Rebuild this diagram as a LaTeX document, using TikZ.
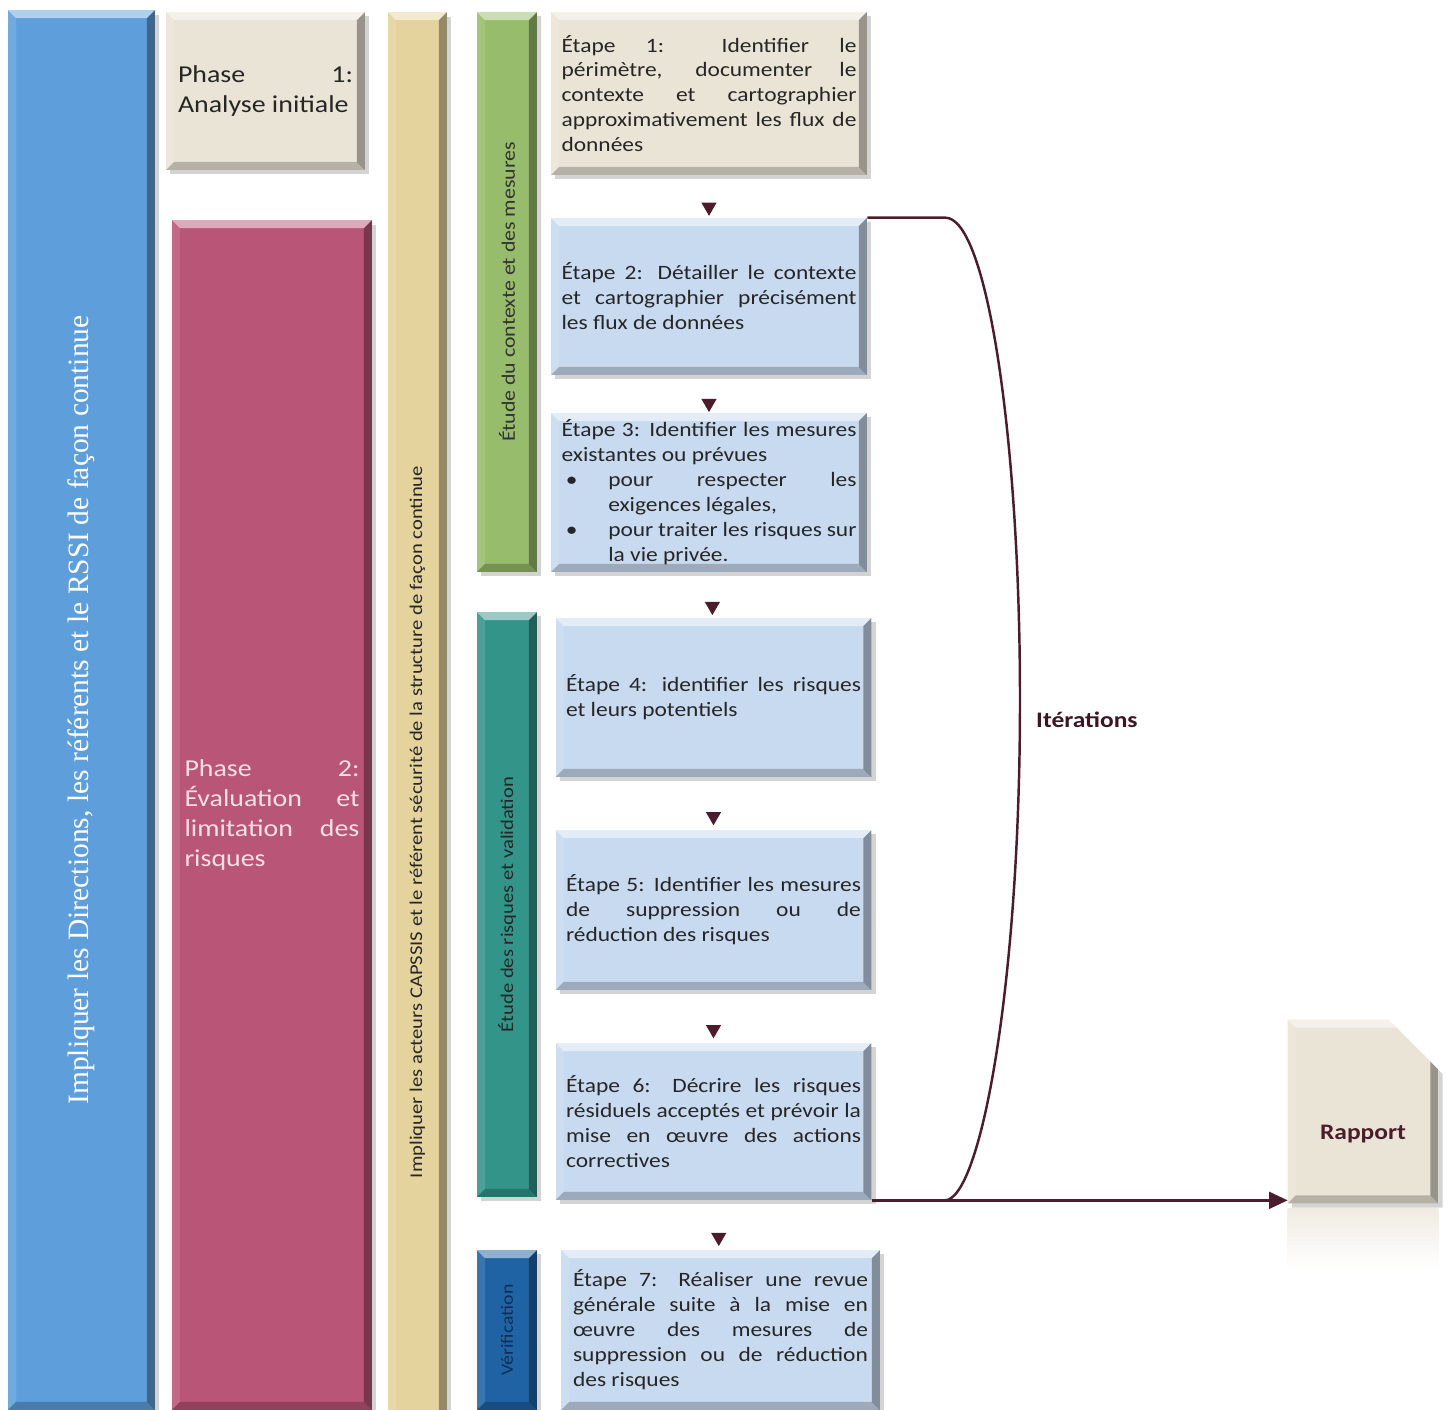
\documentclass[tikz,border=0pt]{standalone}
\usepackage{fontspec}
\setmainfont{Carlito}[FakeStretch=1.15]
\newfontfamily\serifbar{Liberation Serif}
\usepackage{tikz}
\usetikzlibrary{positioning, calc, shadows, shapes.geometric, arrows.meta}
\hyphenpenalty=10000
\tolerance=10000
\definecolor{dirblue}{HTML}{5E9FDB}
\definecolor{paper}{HTML}{EAE4D6}
\definecolor{phasered}{HTML}{B95577}
\definecolor{phasetext}{HTML}{F6E0E8}
\definecolor{actorsand}{HTML}{E5D39D}
\definecolor{ctxgreen}{HTML}{96BC6C}
\definecolor{risqteal}{HTML}{33958A}
\definecolor{verifblue}{HTML}{1F63A4}
\definecolor{veriftext}{HTML}{0F2E52}
\definecolor{steplight}{HTML}{C8DAF0}
\definecolor{wine}{HTML}{4A1C2C}
\def\bevw{0.16cm}
\tikzset{
    bevel/.style = {path picture={
        \fill[white, opacity=0.5] (path picture bounding box.north west) -- (path picture bounding box.north east)
            -- ([shift={(-\bevw,-\bevw)}]path picture bounding box.north east)
            -- ([shift={(\bevw,-\bevw)}]path picture bounding box.north west) -- cycle;
        \fill[white, opacity=0.12] (path picture bounding box.north west) -- ([shift={(\bevw,-\bevw)}]path picture bounding box.north west)
            -- ([shift={(\bevw,\bevw)}]path picture bounding box.south west) -- (path picture bounding box.south west) -- cycle;
        \fill[black, opacity=0.35] (path picture bounding box.north east) -- (path picture bounding box.south east)
            -- ([shift={(-\bevw,\bevw)}]path picture bounding box.south east) -- ([shift={(-\bevw,-\bevw)}]path picture bounding box.north east) -- cycle;
        \fill[black, opacity=0.22] (path picture bounding box.south west) -- (path picture bounding box.south east)
            -- ([shift={(-\bevw,\bevw)}]path picture bounding box.south east) -- ([shift={(\bevw,\bevw)}]path picture bounding box.south west) -- cycle;
    }},
    panel/.style = {inner sep=0pt, bevel, drop shadow={shadow xshift=2.5pt, shadow yshift=-2.5pt, opacity=0.35}},
    bar/.style = {panel, minimum width=1.2cm},
    phase/.style = {panel, minimum width=3.98cm, text width=3.5cm, align=justify, font=\fontsize{13.8}{17.2}\selectfont},
    stepbox/.style = {panel, fill=steplight, minimum width=6.32cm, text width=5.9cm, align=justify,
        text=black!85, font=\fontsize{11.6}{14.2}\selectfont},
    downtip/.style = {regular polygon, regular polygon sides=3, shape border rotate=180,
        minimum size=0.35cm, inner sep=0pt, fill=wine},
    flow/.style = {draw=wine, line width=1.4pt},
}
\begin{document}
\begin{tikzpicture}[x=0.02cm, y=-0.02cm]
    \useasboundingbox (0,0) rectangle (1448,1410);
    % bandes verticales
    \node (dirs) [panel, fill=dirblue, minimum width=2.94cm, minimum height=28cm,
        label={[rotate=90, text=white, font=\serifbar\fontsize{16.8}{20}\selectfont]center:Impliquer les Directions, les référents et le RSSI de façon continue}] at (81.5,710) {};
    \node (ph1) [phase, fill=paper, minimum height=3.16cm, text=black!85] at (265.5,91) {Phase 1:\linebreak Analyse initiale};
    \node (ph2) [phase, fill=phasered, minimum width=4cm, minimum height=23.8cm, text=phasetext] at (272,815)
        {Phase 2:\linebreak Évaluation et\linebreak limitation des\linebreak risques};
    \node (actors) [panel, fill=actorsand, minimum width=1.18cm, minimum height=32.4cm,
        label={[rotate=90, text=black!85, font=\fontsize{10.2}{12}\selectfont]center:Impliquer les acteurs CAPSSIS et le référent sécurité de la structure de façon continue}] at (417.5,822) {};
    \node (ctx) [bar, fill=ctxgreen, minimum height=11.2cm,
        label={[rotate=90, text=black!80, font=\fontsize{10.8}{13}\selectfont]center:Étude du contexte et des mesures}] at (507,292) {};
    \node (risq) [bar, fill=risqteal, minimum height=11.7cm,
        label={[rotate=90, text=black!85, font=\fontsize{10.2}{12}\selectfont]center:Étude des risques et validation}] at (507,904.5) {};
    \node (verif) [bar, fill=verifblue, minimum height=3.2cm,
        label={[rotate=90, text=veriftext, font=\fontsize{9.8}{12}\selectfont]center:Vérification}] at (507,1330) {};
    % etapes
    \node (e1) [stepbox, fill=paper, minimum height=3.26cm] at (709,93.5)
        {Étape 1: Identifier le\linebreak périmètre, documenter le\linebreak contexte et cartographier\linebreak approximativement les flux de\linebreak données};
    \node (e2) [stepbox, minimum height=3.14cm] at (709,296.5)
        {Étape 2: Détailler le contexte\linebreak et cartographier précisément\linebreak les flux de données};
    \node (e3) [stepbox, minimum height=3.18cm] at (709,492.5)
        {Étape 3: Identifier les mesures\linebreak existantes ou prévues\par
        \hangindent=26.6pt\hangafter=1\noindent\makebox[26.6pt][l]{\hspace{2.5pt}\textbullet}pour respecter les\linebreak exigences légales,\par
        \hangindent=26.6pt\hangafter=1\noindent\makebox[26.6pt][l]{\hspace{2.5pt}\textbullet}pour traiter les risques sur\linebreak la vie privée.\par};
    \node (e4) [stepbox, minimum height=3.18cm] at (713.5,697.5)
        {Étape 4: identifier les risques\linebreak et leurs potentiels};
    \node (e5) [stepbox, minimum height=3.2cm] at (713.5,910)
        {Étape 5: Identifier les mesures\linebreak de suppression ou de\linebreak réduction des risques};
    \node (e6) [stepbox, minimum height=3.14cm] at (713.5,1121.5)
        {Étape 6: Décrire les risques\linebreak résiduels acceptés et prévoir la\linebreak mise en œuvre des actions\linebreak correctives};
    \node (e7) [stepbox, minimum width=6.38cm, minimum height=3.2cm] at (720.5,1330)
        {Étape 7: Réaliser une revue\linebreak générale suite à la mise en\linebreak œuvre des mesures de\linebreak suppression ou de réduction\linebreak des risques};
    \foreach \a/\b in {e1/e2, e2/e3, e3/e4, e4/e5, e5/e6, e6/e7}
        \path (\a.south) -- node (t\b) [downtip, pos=0.75] {} (\b.north);
    % rapport et iterations
    \node (rapport) [minimum width=3cm, minimum height=3.66cm, inner sep=0pt] at (1363,1111.5) {};
    \fill[paper, bevel, drop shadow={shadow xshift=2.5pt, shadow yshift=-2.5pt, opacity=0.35}]
        (rapport.south west) -- (rapport.north west) -- ([xshift=-1cm]rapport.north east)
        -- ([yshift=-1cm]rapport.north east) -- (rapport.south east) -- cycle;
    \node (rapporttxt) [text=wine, font=\bfseries\fontsize{12.6}{15}\selectfont] at ([yshift=-0.46cm]rapport.center) {Rapport};
    \shade[top color=paper!70!white, bottom color=white] ([yshift=-3pt]rapport.south west) rectangle ([yshift=-1.3cm]rapport.south east);
    \coordinate (iterturn) at (1020,700);
    \draw[flow] (e2.north east) -- ++(78,0) .. controls +(42,0) and +(0,-260) .. (iterturn)
        .. controls +(0,290) and +(35,0) .. ([xshift=1.46cm]e6.south east);
    \draw[flow, -{Triangle[length=10.5pt, width=9.5pt]}] (e6.south east) -- (e6.south east -| rapport.west);
    \node (iterlbl) [anchor=west, text=wine!80!black, font=\bfseries\fontsize{12.6}{14}\selectfont] at (1030,720) {Itérations};
\end{tikzpicture}
\end{document}
